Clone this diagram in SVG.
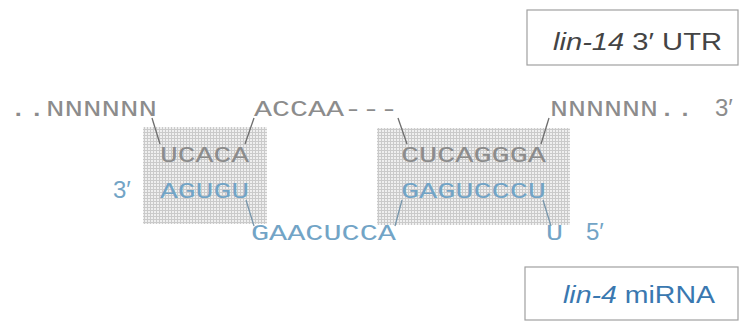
<svg xmlns="http://www.w3.org/2000/svg" width="744" height="322" viewBox="0 0 744 322">
<defs>
<pattern id="screen" x="0" y="0" width="3" height="3" patternUnits="userSpaceOnUse">
<rect width="3" height="3" fill="#efefef"/>
<rect width="3" height="1" fill="#cacaca"/>
<rect width="1" height="3" fill="#cacaca"/>
</pattern>
<style>
.seq{font-family:"Liberation Mono","DejaVu Sans Mono",monospace;font-size:22px}
.gray{fill:#8c8c8c}
.blue{fill:#72a4c6}
.end{font-family:"Liberation Sans","DejaVu Sans",sans-serif;font-size:24px}
.lbl{font-family:"Liberation Sans","DejaVu Sans",sans-serif;font-size:23px}
.box{fill:#ffffff;stroke:#a0a0a0;stroke-width:1.2}
.shade{fill:url(#screen)}
.ln{stroke:#6e6e6e;stroke-width:1.3;fill:none}
.lnb{stroke:#7896ab;stroke-width:1.3;fill:none}
</style>
</defs>
<rect width="744" height="322" fill="#ffffff"/>

<g id="pairing-shading">
<rect class="shade" x="143" y="127" width="124" height="97"/>
<rect class="shade" x="377" y="128" width="193" height="97"/>
</g>

<g id="connectors">
<line class="ln" x1="152" y1="118" x2="160" y2="144"/>
<line class="ln" x1="254" y1="118" x2="245" y2="144"/>
<line class="ln" x1="398" y1="118" x2="407" y2="144"/>
<line class="ln" x1="549" y1="118" x2="541" y2="144"/>
<line class="lnb" x1="246" y1="200" x2="254" y2="226"/>
<line class="lnb" x1="402" y1="200" x2="395" y2="226"/>
<line class="lnb" x1="543" y1="200" x2="551" y2="226"/>
</g>

<g id="utr-strand">
<text class="seq gray" x="9" y="116" textLength="148" lengthAdjust="spacingAndGlyphs">..NNNNNN</text>
<text class="seq gray" x="254" y="116" textLength="144" lengthAdjust="spacingAndGlyphs">ACCAA---</text>
<text class="seq gray" x="550" y="116" textLength="144" lengthAdjust="spacingAndGlyphs">NNNNNN..</text>
<text class="end gray" x="715" y="116">3′</text>
<text class="seq gray" x="160" y="162" textLength="89" lengthAdjust="spacingAndGlyphs">UCACA</text>
<text class="seq gray" x="401" y="162" textLength="145" lengthAdjust="spacingAndGlyphs">CUCAGGGA</text>
</g>

<g id="mirna-strand">
<text class="end blue" x="113" y="198">3′</text>
<text class="seq blue" x="160" y="198" textLength="89" lengthAdjust="spacingAndGlyphs">AGUGU</text>
<text class="seq blue" x="401" y="198" textLength="145" lengthAdjust="spacingAndGlyphs">GAGUCCCU</text>
<text class="seq blue" x="251" y="240" textLength="145" lengthAdjust="spacingAndGlyphs">GAACUCCA</text>
<text class="seq blue" x="546" y="240" textLength="17" lengthAdjust="spacingAndGlyphs">U</text>
<text class="end blue" x="586" y="240">5′</text>
</g>

<g id="label-utr">
<rect class="box" x="527" y="10" width="211" height="55"/>
<text class="lbl" x="553" y="50" fill="#444444" textLength="169" lengthAdjust="spacingAndGlyphs"><tspan font-style="italic">lin-14</tspan> 3′ UTR</text>
</g>

<g id="label-mirna">
<rect class="box" x="525" y="267" width="213" height="53"/>
<text class="lbl" x="563" y="303" fill="#3a78b0" textLength="152" lengthAdjust="spacingAndGlyphs"><tspan font-style="italic">lin-4</tspan> miRNA</text>
</g>
</svg>
